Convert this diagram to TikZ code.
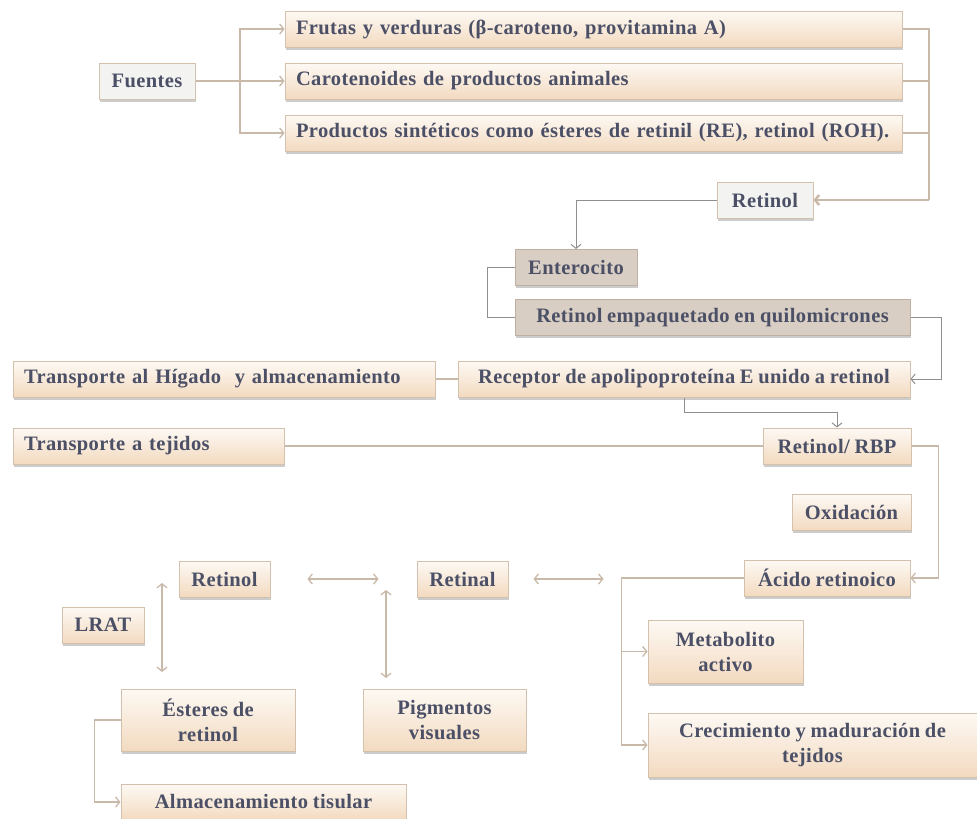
\documentclass[tikz,border=0pt]{standalone}
\usepackage{fontspec}
\setmainfont{Liberation Serif}[LetterSpace=2,WordSpace=0.85]
\usetikzlibrary{arrows.meta,shadows,calc}
\definecolor{boxline}{HTML}{D3C1AE}
\definecolor{boxtop}{HTML}{FDF9F4}
\definecolor{boxbot}{HTML}{F3DAC0}
\definecolor{greyfill}{HTML}{F3F3F2}
\definecolor{taupe}{HTML}{D9CEC3}
\definecolor{taupeline}{HTML}{BFB0A2}
\definecolor{txt}{HTML}{4B5066}
\definecolor{tanline}{HTML}{C9B9A8}
\definecolor{greyline}{HTML}{8F8F8F}

\begin{document}
\begin{tikzpicture}[x=1pt,y=-1pt,
    box/.style={draw=boxline,line width=1pt,top color=boxtop,bottom color=boxbot,
      drop shadow={shadow xshift=1pt,shadow yshift=-2.5pt,opacity=.4},
      text=txt,font=\fontsize{20.5}{25}\selectfont\bfseries,
      inner xsep=8pt,inner ysep=0pt,minimum height=36pt,align=center},
    lbox/.style={box,align=left,inner xsep=11pt},
    greybox/.style={box,top color=greyfill,bottom color=greyfill},
    taupebox/.style={box,draw=taupeline,top color=taupe,bottom color=taupe},
    tan/.style={draw=tanline,line width=1.3pt},
    grey/.style={draw=greyline,line width=1pt},
    arr/.style={-{Straight Barb[length=4pt,width=10pt]}},
    dbl/.style={tan,{Straight Barb[length=4pt,width=10pt]}-{Straight Barb[length=4pt,width=10pt]}}]
\useasboundingbox (0,0) rectangle (977,819);

\node[greybox,minimum width=96pt] (fuentes) at (147,81) {Fuentes};
\node[lbox,text width=595pt] (frutas) at (593.5,29) {Frutas y verduras (β-caroteno, provitamina A)};
\node[lbox,text width=595pt] (carot) at (593.5,81) {Carotenoides de productos animales};
\node[lbox,text width=595pt] (sinte) at (593.5,133) {Productos sintéticos como ésteres de retinil (RE), retinol (ROH).};
\node[greybox,minimum width=96pt] (retA) at (765,200) {Retinol};
\node[taupebox,minimum width=122pt] (entero) at (576,267.5) {Enterocito};
\node[taupebox,minimum width=395pt] (quilo) at (712.5,317.5) {Retinol empaquetado en quilomicrones};
\node[box,minimum width=452pt] (recep) at (684,379) {Receptor de apolipoproteína E unido a retinol};
\node[lbox,text width=400pt] (higado) at (224,379) {Transporte al Hígado \ y almacenamiento};
\node[lbox,text width=249pt] (tejidos) at (148.5,446) {Transporte a tejidos};
\node[box,minimum width=148pt] (rbp) at (837,446) {Retinol/ RBP};
\node[box,minimum width=119pt] (oxid) at (851.5,512.5) {Oxidación};
\node[box,minimum width=166pt] (acido) at (827,578) {Ácido retinoico};
\node[box,minimum width=155pt,minimum height=63pt] (metab) at (725.5,651.5) {Metabolito\\activo};
\node[box,minimum width=329pt,minimum height=64pt] (crec) at (812.5,745) {Crecimiento y maduración de\\tejidos};
\node[box,minimum width=91pt] (retB) at (224.5,579) {Retinol};
\node[box,minimum width=91pt] (retinal) at (462.5,579) {Retinal};
\node[box,minimum width=82pt] (lrat) at (103,625) {LRAT};
\node[box,minimum width=174pt,minimum height=62pt] (ester) at (208,720) {Ésteres de\\retinol};
\node[box,minimum width=163pt,minimum height=62pt] (pigm) at (444.5,720) {Pigmentos\\visuales};
\node[box,minimum width=285pt] (almac) at (263.5,802) {Almacenamiento tisular};

\coordinate (fork) at (240,81);
\coordinate (join) at (929,200);
\draw[tan,line width=2pt] (fuentes.east) -- (fork);
\draw[tan,arr] (fork) |- (frutas.west);
\draw[tan,arr] (fork) -- (carot.west);
\draw[tan,arr] (fork) |- (sinte.west);
\draw[tan] (frutas.east) -| (join);
\draw[tan] (carot.east) -| (join);
\draw[tan] (sinte.east) -| (join);
\draw[tan,line width=2.5pt,arr] (join) -- (retA.east);
\draw[grey,arr] (retA.west) -| (entero.north);
\draw[grey] (entero.west) -- ++(-27,0) |- (quilo.west);
\draw[grey,arr] (quilo.east) -- ++(31,0) |- (recep.east);
\draw[tan] (higado.east) -- (recep.west);
\draw[grey,arr] (recep.south) -- ++(0,15) -| (rbp.north);
\draw[tan] (tejidos.east) -- (rbp.west);
\draw[tan,arr] (rbp.east) -- ++(27,0) |- (acido.east);
\coordinate (rail) at ($(acido.west)+(-122,0)$);
\draw[tan,arr] (acido.west) -- (rail) |- (crec.west);
\draw[tan,arr] (rail |- metab.west) -- (metab.west);
\draw[tan,arr] (ester.west) -- ++(-26,0) |- (almac.west);

\draw[dbl,shorten <=37pt,shorten >=38pt] (retB.east) -- (retinal.west);
\draw[dbl,shorten <=25pt,shorten >=140pt] (retinal.east) -- (retinal.east -| acido.west);
\coordinate (lrtop) at (162,583);
\coordinate (lrbot) at (162,672);
\coordinate (pgtop) at (386,590);
\coordinate (pgbot) at (386,678);
\draw[dbl] (lrtop) -- (lrbot);
\draw[dbl] (pgtop) -- (pgbot);
\end{tikzpicture}
\end{document}
